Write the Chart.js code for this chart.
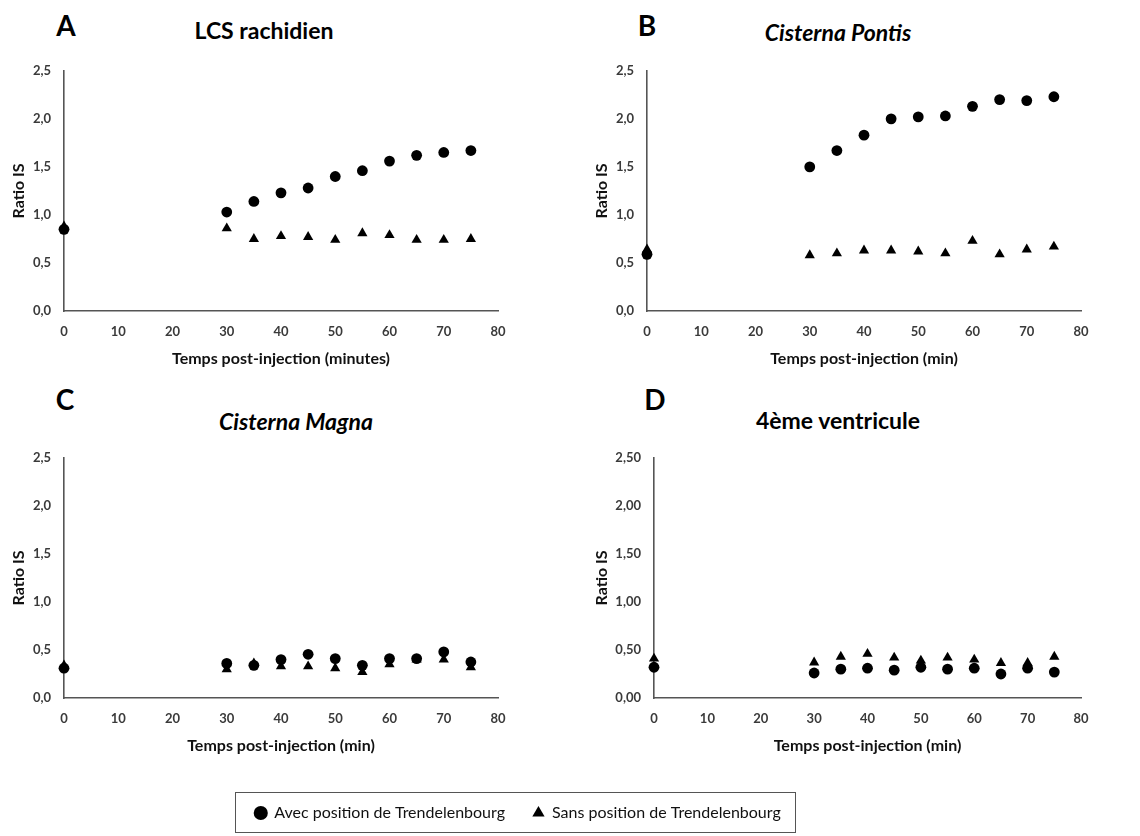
<!DOCTYPE html>
<html><head><meta charset="utf-8">
<script src="https://cdn.jsdelivr.net/npm/chart.js@4/dist/chart.umd.min.js"></script>
<style>
html,body{margin:0;padding:0;background:#fff;}
#root{position:relative;width:1140px;height:836px;overflow:hidden;font-family:Lato,'Open Sans',sans-serif;}
canvas.c{position:absolute;}
.t{position:absolute;transform:translate(-50%,-50%);white-space:nowrap;font-weight:bold;color:#000;line-height:1;}
.L{font-size:28px;}
.T{font-size:23px;}
.i{font-style:italic;}
#leg{position:absolute;left:235px;top:792px;width:559px;height:39px;border:1.5px solid #555;}
</style></head>
<body><div id="root">
<div class="t L" style="left:66px;top:25px;">A</div>
<div class="t T" style="left:264px;top:30px;">LCS rachidien</div>
<div class="t L" style="left:647px;top:25px;">B</div>
<div class="t T i" style="left:838px;top:32px;">Cisterna Pontis</div>
<div class="t L" style="left:65px;top:399px;">C</div>
<div class="t T i" style="left:296px;top:421px;">Cisterna Magna</div>
<div class="t L" style="left:655px;top:399px;">D</div>
<div class="t T" style="left:838px;top:420px;">4ème ventricule</div>
<canvas class="c" id="pA" width="530" height="320" style="left:0px;top:50px;"></canvas>
<canvas class="c" id="pB" width="530" height="320" style="left:583px;top:50px;"></canvas>
<canvas class="c" id="pC" width="530" height="320" style="left:0px;top:437px;"></canvas>
<canvas class="c" id="pD" width="530" height="320" style="left:583px;top:437px;"></canvas>
<div id="leg"></div>
<canvas class="c" id="pL" width="660" height="120" style="left:188px;top:777px;"></canvas>
</div>
<script>
// ---- data ----
const times = [0, 30, 35, 40, 45, 50, 55, 60, 65, 70, 75];
const seriesLabels = ['Avec position de Trendelenbourg', 'Sans position de Trendelenbourg'];

const lcsAvec = [0.85, 1.03, 1.14, 1.23, 1.28, 1.40, 1.46, 1.56, 1.62, 1.65, 1.67];
const lcsSans = [0.88, 0.86, 0.75, 0.78, 0.77, 0.74, 0.81, 0.79, 0.74, 0.74, 0.75];

const pontisAvec = [0.59, 1.50, 1.67, 1.83, 2.00, 2.02, 2.03, 2.13, 2.20, 2.19, 2.23];
const pontisSans = [0.64, 0.58, 0.60, 0.63, 0.63, 0.62, 0.60, 0.73, 0.59, 0.64, 0.67];

const magnaAvec = [0.31, 0.36, 0.34, 0.40, 0.455, 0.41, 0.34, 0.41, 0.41, 0.48, 0.375];
const magnaSans = [0.34, 0.30, 0.36, 0.33, 0.33, 0.31, 0.27, 0.35, 0.40, 0.40, 0.32];

const ventAvec = [0.32, 0.26, 0.30, 0.31, 0.29, 0.32, 0.30, 0.31, 0.25, 0.31, 0.27];
const ventSans = [0.41, 0.37, 0.43, 0.46, 0.42, 0.39, 0.42, 0.40, 0.365, 0.365, 0.43];

const xTickLabels = ['0', '10', '20', '30', '40', '50', '60', '70', '80'];
const yTickLabels1 = ['0,0', '0,5', '1,0', '1,5', '2,0', '2,5'];
const yTickLabels2 = ['0,00', '0,50', '1,00', '1,50', '2,00', '2,50'];

const xTitleMinutes = 'Temps post-injection (minutes)';
const xTitleMin = 'Temps post-injection (min)';
const yTitle = 'Ratio IS';

// ---- drawing ----
const FAM = 'Lato, "Open Sans", sans-serif';
Chart.defaults.font.family = FAM;

function pts(vals) { return times.map((t, i) => ({ x: t, y: vals[i] })); }

function makePanel(id, avec, sans, xTitle, yLabels, yAxisWidth) {
  new Chart(document.getElementById(id), {
    type: 'scatter',
    data: {
      datasets: [
        { label: seriesLabels[0], data: pts(avec), pointStyle: 'circle', pointRadius: 5.4,
          backgroundColor: '#000', borderColor: '#000', borderWidth: 0, clip: false },
        { label: seriesLabels[1], data: pts(sans), pointStyle: 'triangle', pointRadius: 5.9,
          backgroundColor: '#000', borderColor: '#000', borderWidth: 0, clip: false }
      ]
    },
    options: {
      responsive: false, animation: false, events: [],
      layout: { padding: { left: 9, top: 20, right: 32, bottom: 2 } },
      plugins: { legend: { display: false }, tooltip: { enabled: false } },
      scales: {
        x: {
          type: 'linear', min: 0, max: 80,
          grid: { display: false, drawTicks: false },
          border: { display: true, color: '#555', width: 1.6 },
          ticks: { stepSize: 10, padding: 13, color: '#3a3a3a', maxRotation: 0, autoSkip: false,
                   font: { family: FAM, size: 13, weight: 'bold' },
                   callback: (v, i) => xTickLabels[i] },
          title: { display: true, text: xTitle, color: '#111', padding: 0,
                   font: { family: FAM, size: 16, weight: 'bold' } },
          afterFit: s => { s.height = 57; }
        },
        y: {
          min: 0, max: 2.5,
          grid: { display: false, drawTicks: false },
          border: { display: true, color: '#555', width: 1.6 },
          ticks: { stepSize: 0.5, padding: 13, color: '#3a3a3a',
                   font: { family: FAM, size: 13, weight: 'bold' },
                   callback: (v, i) => yLabels[i] },
          title: { display: true, text: yTitle, color: '#111', padding: 0,
                   font: { family: FAM, size: 16, weight: 'bold' } },
          afterFit: s => { s.width = yAxisWidth; }
        }
      }
    }
  });
}

makePanel('pA', lcsAvec, lcsSans, xTitleMinutes, yTickLabels1, 55);
makePanel('pB', pontisAvec, pontisSans, xTitleMin, yTickLabels1, 55);
makePanel('pC', magnaAvec, magnaSans, xTitleMin, yTickLabels1, 55);
makePanel('pD', ventAvec, ventSans, xTitleMin, yTickLabels2, 62);

new Chart(document.getElementById('pL'), {
  type: 'scatter',
  data: {
    datasets: [
      { label: seriesLabels[0], data: [], pointStyle: 'circle', backgroundColor: '#000', borderColor: '#000', borderWidth: 0 },
      { label: seriesLabels[1], data: [], pointStyle: 'triangle', backgroundColor: '#000', borderColor: '#000', borderWidth: 0 }
    ]
  },
  options: {
    responsive: false, animation: false, events: [],
    layout: { padding: 0 },
    scales: { x: { display: false }, y: { display: false } },
    plugins: {
      tooltip: { enabled: false },
      legend: {
        display: true, position: 'top', align: 'center',
        labels: { usePointStyle: true, boxWidth: 11, boxHeight: 10, padding: 28, color: '#111',
                  font: { family: FAM, size: 16 } }
      }
    }
  }
});
</script>
</body></html>
